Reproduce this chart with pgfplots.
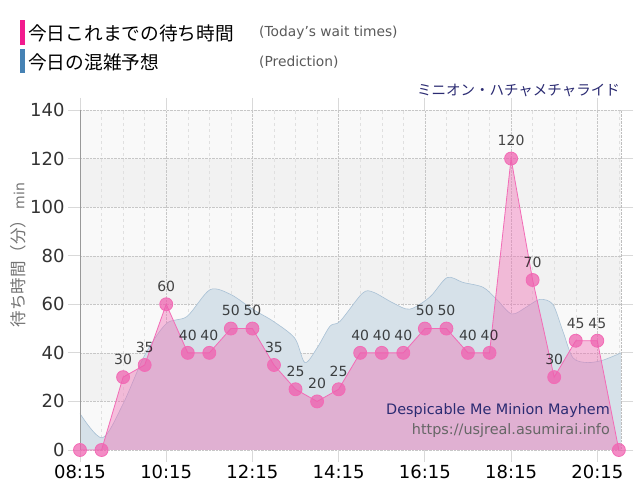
\documentclass[border=0pt]{standalone}
\usepackage{fontspec}
\setmainfont{DejaVu Sans}
\newfontfamily\jp{Noto Sans CJK JP}
\usepackage{pgfplots}
\pgfplotsset{compat=1.18}
\usepackage{pgfplotstable}

\definecolor{legpink}{HTML}{F21B8E}
\definecolor{legblue}{HTML}{4682B4}
\definecolor{navytext}{HTML}{2B2B72}
\definecolor{waitline}{HTML}{F36BB6}
\definecolor{waitmark}{HTML}{EE5FAE}
\definecolor{waitfill}{HTML}{F06EB4}
\definecolor{predfill}{HTML}{D6E1E9}
\definecolor{predline}{HTML}{A9C1D5}
\definecolor{bandlight}{HTML}{F9F9F9}
\definecolor{banddark}{HTML}{F2F2F2}

% minutes after 08:15, wait time in minutes
\pgfplotstableread{
t v
0 0
30 0
60 30
90 35
120 60
150 40
180 40
210 50
240 50
270 35
300 25
330 20
360 25
390 40
420 40
450 40
480 50
510 50
540 40
570 40
600 120
630 70
660 30
690 45
720 45
750 0
}\waittimes

% forecast curve
\pgfplotstableread{
t v
0 15
31 5
60 19
90 39
120 52
149 55
181 66
210 64
240 58
269 53
299 46
313 36
330 42
348 51
362 53
393 64.5
408 65
436 60.5
459 58
487 63
511 71
533 69
561 67
580 62
601 56
622 59
640 62
658 60
672 49
686 38
706 36
728 37
753 40
}\forecast

\begin{document}
\begin{tikzpicture}[x=1pt,y=1pt]
\path (0,0) rectangle (640,500);

% legend
\fill[legpink] (20,455) rectangle (25,480);
\fill[legblue] (20,427) rectangle (25,451);
\node[anchor=west, inner sep=0] at (28,467) {\fontsize{18.7}{19}\jp 今日これまでの待ち時間};
\node[anchor=west, inner sep=0, text=black!65] at (259,467) {\fontsize{13.8}{14}\selectfont (Today's wait times)};
\node[anchor=west, inner sep=0] at (28,438) {\fontsize{18.7}{19}\jp 今日の混雑予想};
\node[anchor=west, inner sep=0, text=black!65] at (259,438) {\fontsize{13.8}{14}\selectfont (Prediction)};

% attraction name
\node[anchor=east, inner sep=0, text=navytext] at (620,410) {\fontsize{14.5}{15}\jp ミニオン・ハチャメチャライド};

% y label
\node[rotate=90, inner sep=0, text=black!55] at (18,245) {\fontsize{16.5}{16}\jp 待ち時間（分）\rmfamily\fontsize{14}{14}\selectfont\,min};

\begin{axis}[
  at={(80pt,50pt)}, anchor=south west,
  scale only axis, width=541pt, height=340pt,
  xmin=0, xmax=753, ymin=0, ymax=140,
  set layers, clip=false,
  axis line style={draw=none},
  xtick={0,120,240,360,480,600,720},
  xticklabels={08:15,10:15,12:15,14:15,16:15,18:15,20:15},
  minor xtick={30,60,90,150,180,210,270,300,330,390,420,450,510,540,570,630,660,690,750},
  ytick={0,20,...,140},
  grid=both,
  major grid style={black!22, densely dotted},
  minor grid style={black!12, dashed},
  tick align=outside,
  major tick length=12pt, minor tick length=0pt,
  tick style={black!15, line width=0.8pt},
  /pgf/number format/assume math mode=true,
  yticklabel style={font=\fontsize{18}{18}\selectfont, text=black!80},
  xticklabel style={font=\fontsize{18}{18}\selectfont, text=black},
]
\begin{pgfonlayer}{axis background}
  \fill[bandlight] (axis cs:0,0) rectangle (axis cs:753,20);
  \fill[banddark]  (axis cs:0,20) rectangle (axis cs:753,40);
  \fill[bandlight] (axis cs:0,40) rectangle (axis cs:753,60);
  \fill[banddark]  (axis cs:0,60) rectangle (axis cs:753,80);
  \fill[bandlight] (axis cs:0,80) rectangle (axis cs:753,100);
  \fill[banddark]  (axis cs:0,100) rectangle (axis cs:753,120);
  \fill[bandlight] (axis cs:0,120) rectangle (axis cs:753,140);
\end{pgfonlayer}

% forecast area
\addplot[smooth, draw=none, fill=predfill] table[x=t,y=v] {\forecast} \closedcycle;
\addplot[smooth, draw=predline, line width=0.6pt] table[x=t,y=v] {\forecast};

% today's wait times
\addplot[draw=none, fill=waitfill, fill opacity=0.42] table[x=t,y=v] {\waittimes} \closedcycle;
\addplot[
  draw=waitline, line width=0.8pt,
  mark=*, mark size=6.5pt,
  mark options={draw=none, fill=waitmark, fill opacity=0.72},
  point meta=explicit symbolic,
  nodes near coords={\ifnum\pgfplotspointmeta>0 \pgfplotspointmeta\fi},
  every node near coord/.append style={anchor=south, yshift=10pt, inner sep=2pt,
     text=black, font=\fontsize{14}{14}\selectfont},
] table[x=t,y=v,meta=v] {\waittimes};

\draw[black!40, line width=0.8pt] (rel axis cs:0,0) -- (rel axis cs:0,1);
\draw[black!25, densely dotted] (rel axis cs:1,0) -- (rel axis cs:1,1);
\end{axis}

% site credits
\node[anchor=east, inner sep=0, text=navytext] at (610,89) {\fontsize{14.4}{15}\selectfont Despicable Me Minion Mayhem};
\node[anchor=east, inner sep=0, text=black!60] at (610,69) {\fontsize{14.4}{15}\selectfont https://usjreal.asumirai.info};
\end{tikzpicture}
\end{document}
